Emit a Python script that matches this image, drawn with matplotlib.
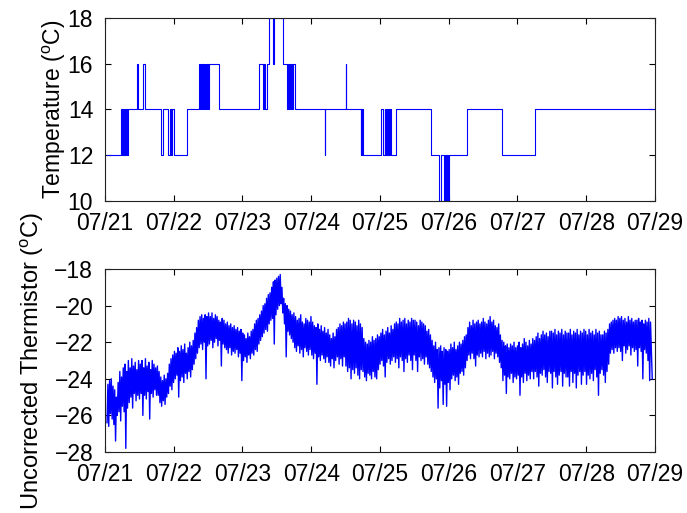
import numpy as np
import matplotlib
matplotlib.use("Agg")
import matplotlib.pyplot as plt

plt.rcParams["font.family"] = ["Liberation Sans", "DejaVu Sans"]
plt.rcParams["mathtext.fontset"] = "custom"
plt.rcParams["mathtext.rm"] = "Liberation Sans"
plt.rcParams["mathtext.it"] = "Liberation Sans:italic"

# x axis: days since 07/21
day_labels = ["07/21", "07/22", "07/23", "07/24", "07/25",
              "07/26", "07/27", "07/28", "07/29"]

# Logged temperature (step changes): time of change [days], new value [degC]
temp_times = [0.03, 0.24, 0.25, 0.265, 0.275, 0.29, 0.30, 0.31, 0.32, 0.33,
              0.46, 0.485, 0.55, 0.58, 0.815, 0.85,
              0.92, 0.94, 0.955, 0.97, 1.0, 1.197,
              1.367, 1.38, 1.39, 1.40, 1.41, 1.42, 1.43, 1.44, 1.45, 1.46,
              1.47, 1.48, 1.49, 1.50, 1.51, 1.658,
              2.245, 2.30, 2.31, 2.325, 2.36, 2.39, 2.44, 2.465, 2.59, 2.65,
              2.66, 2.675, 2.685, 2.70, 2.71, 2.72, 2.735, 2.76,
              3.20, 3.205, 3.505, 3.51,
              3.72, 3.73, 3.74, 3.745, 3.755,
              4.01, 4.04, 4.07, 4.08, 4.09, 4.10, 4.11, 4.12, 4.13, 4.14,
              4.15, 4.16, 4.23, 4.74,
              4.86, 4.885, 4.93, 4.94, 4.95, 4.96, 4.97, 4.98, 4.99, 5.0,
              5.27, 5.77, 6.26, 8.0]
temp_values = [12, 14, 12, 14, 12, 14, 12, 14, 12, 14,
               16, 14, 16, 14, 12, 14,
               12, 14, 12, 14, 12, 14,
               16, 14, 16, 14, 16, 14, 16, 14, 16, 14,
               16, 14, 16, 14, 16, 14,
               16, 14, 16, 14, 16, 18, 16, 18, 16, 14,
               16, 14, 16, 14, 16, 14, 16, 14,
               12, 14, 16, 14,
               12, 14, 12, 14, 12,
               14, 12, 14, 12, 14, 12, 14, 12, 14, 12,
               14, 12, 14, 12,
               10, 12, 10, 12, 10, 12, 10, 12, 10, 12,
               14, 12, 14, 14]

# Uncorrected thermistor readings, evenly sampled from 0.03 to 7.96 days
# (one row per quarter day)
therm_start, therm_end = 0.03, 7.96
therm_values = [
    -26.4, -24.3, -26.6, -24.1, -25.9, -24.0, -26.2, -24.4, -26.5, -24.6, -27.4, -25.0, -26.0, -24.2, -25.8, -23.6, -26.3, -23.9, -25.5, -23.4,
    -25.8, -23.2, -27.8, -23.6, -25.6, -23.0, -25.3, -23.4, -25.0, -22.9, -25.6, -23.3, -24.8, -23.1, -25.2, -23.5, -24.9, -23.0, -25.1, -23.2,
    -24.8, -23.0, -26.0, -23.4, -24.9, -22.9, -25.1, -23.3, -24.7, -23.1, -26.2, -23.5, -24.8, -23.0, -25.0, -23.2, -24.6, -23.4, -24.9, -23.3,
    -24.9, -23.6, -25.3, -23.9, -25.5, -24.1, -25.2, -23.8, -25.4, -24.0, -25.0, -23.7, -24.8, -23.2, -24.4, -22.9, -24.6, -22.7, -24.2, -22.5,
    -24.0, -22.6, -23.8, -22.3, -25.0, -22.5, -24.1, -22.2, -23.9, -22.4, -24.2, -22.1, -23.7, -22.6, -24.0, -22.3, -23.6, -22.0, -23.9, -22.2,
    -23.5, -21.9, -23.2, -21.5, -22.9, -21.2, -22.6, -20.8, -22.3, -20.6, -22.1, -20.5, -22.4, -20.7, -22.0, -20.5, -24.0, -20.6, -22.2, -20.4,
    -22.1, -20.6, -21.9, -20.4, -22.3, -20.7, -22.0, -20.5, -21.8, -20.6, -22.2, -20.8, -21.9, -20.9, -23.3, -20.7, -22.1, -20.8, -22.3, -21.0,
    -22.4, -20.9, -22.6, -21.1, -22.3, -21.0, -22.7, -21.2, -22.5, -21.1, -22.6, -21.3, -22.4, -21.2, -22.8, -21.4, -22.6, -21.3, -24.1, -21.5,
    -23.0, -21.6, -22.8, -21.8, -23.1, -21.5, -22.7, -21.7, -22.9, -21.4, -22.6, -21.3, -22.7, -21.0, -22.4, -20.8, -22.5, -20.7, -22.1, -20.5,
    -21.9, -20.3, -21.7, -20.0, -21.5, -19.9, -21.3, -19.6, -21.4, -19.4, -21.0, -19.3, -20.8, -19.0, -20.7, -18.7, -22.1, -18.6, -20.5, -18.5,
    -20.2, -18.4, -20.0, -18.3, -19.9, -19.0, -20.4, -19.6, -21.0, -19.9, -22.8, -20.0, -21.4, -20.2, -21.6, -20.3, -21.8, -20.5, -22.0, -20.4,
    -22.3, -20.6, -22.5, -20.8, -22.2, -20.7, -22.6, -20.5, -22.4, -20.9, -22.8, -21.0, -22.3, -20.7, -22.5, -20.8, -22.7, -20.9, -22.4, -20.6,
    -22.7, -20.9, -22.9, -21.1, -22.6, -21.2, -24.3, -21.0, -22.8, -21.3, -23.0, -21.1, -22.7, -21.4, -22.9, -21.2, -23.1, -21.5, -22.8, -21.3,
    -23.1, -21.6, -23.3, -21.8, -22.9, -21.5, -23.4, -21.7, -23.0, -21.3, -22.8, -21.2, -23.2, -21.0, -22.9, -21.1, -23.3, -20.9, -22.8, -21.0,
    -23.3, -20.9, -23.6, -20.7, -23.4, -20.8, -24.0, -21.0, -23.5, -20.8, -23.7, -20.9, -23.4, -21.1, -23.8, -20.8, -24.0, -21.0, -23.5, -21.2,
    -23.6, -21.8, -23.9, -22.0, -24.1, -22.1, -23.7, -21.9, -23.8, -22.0, -24.0, -21.7, -23.6, -21.9, -23.9, -21.8, -24.0, -21.6, -23.5, -21.7,
    -23.2, -21.5, -23.0, -21.3, -23.3, -21.6, -23.9, -21.4, -23.1, -21.2, -22.9, -21.5, -23.2, -21.1, -23.0, -21.3, -22.8, -21.0, -23.1, -20.9,
    -22.9, -21.0, -23.4, -20.7, -22.8, -20.9, -23.0, -20.8, -23.6, -20.7, -22.9, -21.0, -23.1, -20.8, -22.7, -20.9, -23.0, -20.7, -23.5, -20.8,
    -22.7, -20.8, -23.0, -20.9, -23.6, -21.1, -22.8, -20.8, -23.0, -20.9, -22.9, -21.0, -23.2, -21.1, -22.8, -21.4, -23.2, -21.3, -23.4, -21.6,
    -23.6, -21.9, -23.9, -22.2, -24.2, -22.0, -24.0, -22.4, -25.6, -22.3, -24.5, -22.2, -24.1, -22.5, -25.4, -22.3, -24.3, -22.4, -25.5, -22.5,
    -24.2, -22.4, -24.6, -22.1, -24.0, -22.3, -23.8, -22.0, -24.1, -22.4, -23.9, -22.2, -24.3, -22.0, -23.7, -22.1, -23.6, -21.9, -23.8, -21.7,
    -23.4, -21.6, -23.0, -21.2, -22.7, -20.9, -22.9, -21.1, -22.6, -20.8, -22.9, -21.0, -23.3, -20.9, -22.7, -20.8, -22.8, -21.0, -22.6, -20.9,
    -22.8, -20.7, -22.5, -20.9, -22.9, -21.0, -22.6, -20.8, -22.8, -20.6, -22.7, -20.9, -22.5, -20.8, -22.9, -21.1, -22.6, -21.2, -22.8, -21.0,
    -23.1, -21.6, -23.4, -21.9, -24.1, -22.0, -23.8, -22.2, -24.8, -22.1, -23.9, -22.3, -24.0, -22.1, -23.7, -22.2, -24.2, -22.0, -23.9, -22.3,
    -24.0, -22.2, -23.8, -22.0, -24.9, -22.3, -23.9, -22.1, -24.2, -21.8, -23.7, -22.0, -24.1, -22.2, -23.8, -21.9, -24.0, -22.1, -23.6, -21.8,
    -24.0, -21.9, -23.6, -21.7, -23.9, -21.5, -24.4, -21.8, -23.7, -21.6, -23.8, -21.4, -23.5, -21.6, -23.9, -21.5, -24.2, -21.7, -23.6, -21.4,
    -23.7, -21.4, -24.5, -21.5, -23.6, -21.3, -23.9, -21.6, -24.3, -21.4, -23.8, -21.5, -23.6, -21.3, -24.4, -21.6, -23.7, -21.4, -23.9, -21.5,
    -23.9, -21.5, -24.4, -21.3, -23.6, -21.6, -24.2, -21.4, -23.7, -21.5, -24.5, -21.3, -23.8, -21.6, -23.6, -21.4, -24.3, -21.5, -23.8, -21.3,
    -23.6, -21.4, -24.3, -21.6, -23.8, -21.3, -24.0, -21.5, -23.7, -21.4, -24.1, -21.6, -23.5, -21.3, -23.9, -21.5, -24.9, -21.4, -23.7, -21.6,
    -23.5, -21.6, -23.8, -21.4, -24.2, -21.5, -23.6, -21.3, -23.2, -21.0, -22.6, -20.9, -22.4, -20.8, -22.6, -20.7, -22.3, -20.8, -22.5, -20.6,
    -22.3, -20.7, -22.5, -20.6, -23.0, -20.8, -22.2, -20.7, -22.6, -20.9, -22.4, -20.6, -22.2, -20.8, -22.7, -20.7, -22.3, -20.9, -22.5, -20.8,
    -22.4, -20.8, -23.3, -20.7, -22.3, -20.9, -22.5, -20.8, -24.0, -21.0, -22.4, -20.8, -22.6, -20.9, -23.0, -20.7, -24.1, -20.9, -22.5, -24.0,
]
therm_times = np.linspace(therm_start, therm_end, len(therm_values))

temp_ticks = [10, 12, 14, 16, 18]
therm_ticks = [-28, -26, -24, -22, -20, -18]

fig = plt.figure(figsize=(6.87, 5.13), dpi=100)
ax1 = fig.add_axes([0.1528, 0.6082, 0.8006, 0.3567])
ax2 = fig.add_axes([0.1528, 0.1189, 0.8006, 0.3567])

ax1.plot(temp_times, temp_values, drawstyle="steps-post",
         color=(0, 0, 1), linewidth=0.8)
ax2.plot(therm_times, therm_values, color=(0, 0, 1), linewidth=1.0)

for ax, yt, ylim in ((ax1, temp_ticks, (10, 18)), (ax2, therm_ticks, (-28, -18))):
    ax.set_xlim(0, 8)
    ax.set_ylim(*ylim)
    ax.set_xticks(range(len(day_labels)))
    ax.set_xticklabels(day_labels)
    ax.set_yticks(yt)
    ax.set_yticklabels([f"{v}".replace("-", "\u2212") for v in yt])
    ax.tick_params(direction="in", top=True, right=True, length=4,
                   width=0.8, labelsize=16.5, colors="black")
    ax.tick_params(axis="x", pad=8)
    ax.tick_params(axis="y", pad=8.5)
    for s in ax.spines.values():
        s.set_linewidth(0.8)
        s.set_color("#222222")

ax1.set_ylabel(r"Temperature ($^{\mathrm{o}}$C)", fontsize=16.5)
ax1.yaxis.set_label_coords(-0.068, 0.5)
ax2.set_ylabel(r"Uncorrected Thermistor ($^{\mathrm{o}}$C)", fontsize=17)
ax2.yaxis.set_label_coords(-0.107, 0.5)

fig.savefig("out.png", dpi=100)
